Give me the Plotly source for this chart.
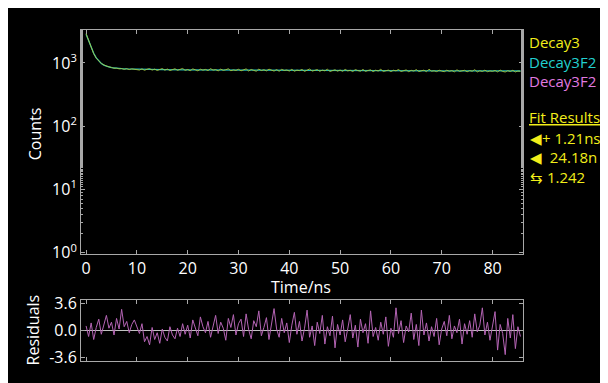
import plotly.graph_objects as go

# ---------------- data ----------------
time_ns = [i * 0.5 for i in range(172)]

decay_counts = [
    2900, 2250, 1720, 1400, 1190, 1060, 980, 930, 890, 865, 850, 822, 828, 806, 815, 790, 812, 785, 806, 792,
    800, 772, 806, 765, 795, 812, 770, 798, 760, 790, 815, 768, 801, 758, 786, 809, 764, 792, 818, 762,
    788, 754, 805, 779, 750, 796, 768, 790, 757, 812, 770, 785, 748, 799, 763, 781, 808, 752, 776, 760,
    794, 750, 771, 806, 745, 787, 762, 740, 799, 758, 781, 749, 797, 766, 743, 785, 738, 792, 760, 774,
    744, 793, 739, 770, 756, 788, 735, 768, 801, 742, 762, 784, 737, 771, 750, 795, 733, 765, 779, 741,
    772, 736, 790, 748, 766, 731, 785, 757, 740, 789, 734, 760, 778, 729, 768, 745, 794, 733, 755, 771,
    730, 767, 749, 788, 732, 756, 776, 727, 764, 743, 785, 731, 754, 770, 726, 796, 740, 752, 729, 768,
    745, 726, 769, 738, 757, 723, 779, 735, 750, 766, 724, 758, 739, 783, 721, 753, 733, 770, 727, 748,
    736, 760, 722, 772, 734, 719, 755, 731, 766, 720, 745, 738,
]

fit_time = [0, 0.5, 1, 1.5, 2, 2.5, 3, 3.5, 4, 5, 6, 7, 8, 10, 15, 20, 30, 40, 50, 60, 70, 80, 85.5]
fit_counts = [2850, 2230, 1740, 1420, 1200, 1065, 980, 925, 888, 845, 822, 810, 803, 795, 785, 777,
              768, 762, 757, 753, 750, 747, 746]

residuals = [
    0.6, -0.8, 1.0, -1.2, 0.4, 1.5, -0.5, 0.9, 2.0, 0.3, 1.1, -0.6, 1.6, 0.2, 2.8, 0.5, 1.2, -0.3, 0.8, 1.4,
    0.6, -0.4, 0.9, -1.5, -0.8, -1.9, 0.4, -1.2, -0.3, -1.7, 0.2, -0.9, -1.4, 0.5, -0.6, -1.1, 0.3, -0.8, 0.9, -0.5,
    0.7, -1.0, 1.4, 0.2, -0.7, 1.8, 0.5, -0.3, 1.2, -0.9, 0.6, 2.0, -0.4, 1.1, 0.3, -1.3, 1.6, 0.4, 2.1, -0.6,
    0.9, 1.5, -0.8, 2.2, 0.1, -1.1, 1.3, 0.5, 2.6, -0.7, 0.4, 1.7, -1.2, 0.8, 2.9, 0.2, -0.9, 1.6, -0.3, 1.0,
    -1.6, 0.7, 2.4, -0.5, 1.2, -1.4, 0.3, 2.7, -0.9, 0.6, -2.0, 1.1, -0.4, 2.0, -1.8, 0.5, -0.7, 1.9, -2.3, 0.8,
    -0.6, 1.4, -1.5, 0.2, 2.1, -1.0, 0.7, -2.2, 1.5, -0.3, 0.9, -1.7, 2.6, -0.8, 0.4, -1.3, 1.1, -0.5, 1.8, -2.1,
    0.3, -0.9, 3.0, -0.4, 1.3, -1.6, 0.6, -0.2, 2.3, -1.2, 0.8, -2.0, 2.7, -0.6, 1.0, -1.4, 0.5, -0.8, 1.6, -1.9,
    0.2, 1.2, -0.7, 2.0, -1.1, 0.6, -0.3, 1.5, -1.8, 0.9, -0.5, 1.3, -0.9, 2.2, -0.2, 0.7, 3.0, -0.6, 1.1, -1.3,
    0.4, 2.5, -2.6, 0.8, -0.4, -3.2, 1.6, -1.0, 2.1, -2.4, 0.5, -0.8,
]

x_ticks = [0, 10, 20, 30, 40, 50, 60, 70, 80]
y_ticks = [1, 10, 100, 1000]
y_ticktext = ["10<sup>0</sup>", "10<sup>1</sup>", "10<sup>2</sup>", "10<sup>3</sup>"]
res_ticks = [-3.6, 0.0, 3.6]
res_ticktext = ["-3.6", "0.0", "3.6"]

legend_names = ["Decay3", "Decay3F2", "Decay3F2"]
fit_lines = ["◀+ 1.21ns", "◀  24.18n", "⇆ 1.242"]

# ---------------- style ----------------
W, H = 608, 383
FONT = "Open Sans"
GRAY = "#a8a8a8"
YELLOW = "#f2ee1a"
CYAN = "#22d0d0"
PINK = "#e07ae0"

# map target-screen pixel positions into paper fractions (page offset / scaling compensation)
OX, OY, SY = 8.0, 16.37, 0.95


def px_x(p):
    return (p - OX) / W


def px_y(p):
    return 1 - ((p - OY) / SY) / H


fig = go.Figure()

fig.add_trace(go.Scatter(x=fit_time, y=fit_counts, mode="lines",
                         line=dict(color="#1fbcbc", width=1.3), xaxis="x", yaxis="y",
                         showlegend=False))
fig.add_trace(go.Scatter(x=time_ns, y=decay_counts, mode="lines",
                         line=dict(color="#a9c83c", width=1), opacity=0.9,
                         xaxis="x", yaxis="y", showlegend=False))
fig.add_trace(go.Scatter(x=time_ns, y=residuals, mode="lines",
                         line=dict(color="#b464b4", width=1), xaxis="x2", yaxis="y2",
                         showlegend=False))

xdom = [px_x(81), px_x(523)]
axis_common = dict(showline=True, linecolor=GRAY, linewidth=1, mirror="allticks",
                   ticks="inside", tickcolor=GRAY, ticklen=4, showgrid=False,
                   tickfont=dict(family=FONT, size=16, color="white"))

fig.update_layout(
    width=W, height=H,
    margin=dict(l=0, r=0, t=0, b=0),
    paper_bgcolor="black",
    plot_bgcolor="black",
    showlegend=False,
    xaxis=dict(domain=xdom, range=[-1, 86], tickvals=x_ticks, anchor="y", zeroline=False,
               **axis_common),
    yaxis=dict(domain=[px_y(253), px_y(30)], type="log", range=[-0.02, 3.525],
               tickvals=y_ticks, ticktext=y_ticktext, anchor="x", zeroline=False,
               minor=dict(ticks="inside", ticklen=2, tickcolor=GRAY, showgrid=False),
               **axis_common),
    xaxis2=dict(domain=xdom, range=[-1, 86], tickvals=x_ticks, anchor="y2", zeroline=False,
                showticklabels=False, **axis_common),
    yaxis2=dict(domain=[px_y(359), px_y(299)], range=[-4.0, 4.0], tickvals=res_ticks,
                ticktext=res_ticktext, anchor="x2",
                zeroline=True, zerolinecolor="#c0c0c0", zerolinewidth=1, **axis_common),
)

annos = []
annos.append(dict(text="Counts", x=px_x(35), y=px_y(134), textangle=-90,
                  font=dict(family=FONT, size=16, color="white")))
annos.append(dict(text="Residuals", x=px_x(33), y=px_y(329), textangle=-90,
                  font=dict(family=FONT, size=16, color="white")))
annos.append(dict(text="Time/ns", x=px_x(301), y=px_y(286),
                  font=dict(family=FONT, size=16, color="white")))

for name, col, yp in zip(legend_names, [YELLOW, CYAN, PINK], [42, 62, 81]):
    annos.append(dict(text=name, x=px_x(527), y=px_y(yp), xanchor="left",
                      font=dict(family=FONT, size=15, color=col)))
annos.append(dict(text="<u>Fit Results</u>", x=px_x(527), y=px_y(117), xanchor="left",
                  font=dict(family=FONT, size=15, color=YELLOW)))
for txt, yp in zip(fit_lines, [138, 157, 176]):
    annos.append(dict(text=txt, x=px_x(528), y=px_y(yp), xanchor="left",
                      font=dict(family=FONT, size=15, color=YELLOW)))

for a in annos:
    a.update(xref="paper", yref="paper", showarrow=False)
    a.setdefault("xanchor", "center")
    a["yanchor"] = "middle"
fig.update_layout(annotations=annos)

fig.write_html("out.html")
